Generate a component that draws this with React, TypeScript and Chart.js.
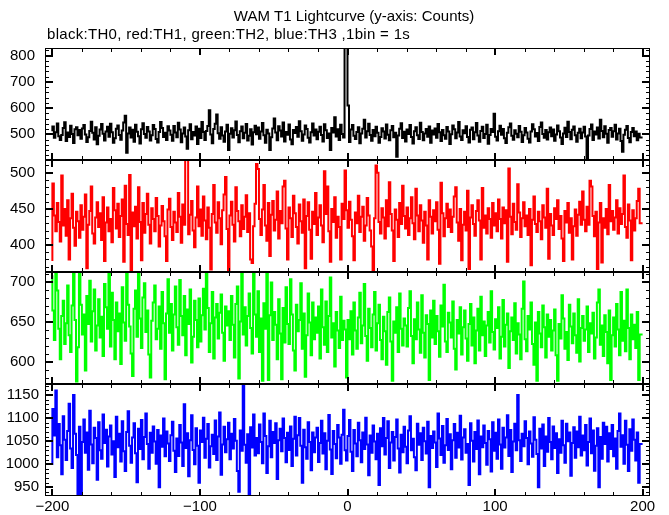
import React, { useEffect, useRef } from 'react';
import { Chart, registerables } from 'chart.js';

Chart.register(...registerables);

const titleText = 'WAM T1 Lightcurve (y-axis: Counts)';
const subtitleText = 'black:TH0, red:TH1, green:TH2, blue:TH3 ,1bin = 1s';

// time bins: first bin start and bin width (1bin = 1s)
const binStart = -200;
const binWidth = 1;

// TH0 (black) counts per 1 s bin, t = -200 .. 199
const th0 = [
  512, 530, 487, 508, 541, 493, 478, 497, 524, 546, 474, 507, 490, 533, 501, 467, 519, 527, 496, 516,
  483, 522, 535, 499, 471, 489, 513, 548, 506, 480, 527, 462, 494, 518, 539, 502, 476, 511, 529, 491,
  540, 508, 468, 485, 521, 534, 497, 479, 514, 545, 571, 430, 503, 526, 488, 517, 472, 536, 510, 493,
  465, 519, 542, 501, 487, 528, 511, 476, 496, 535, 520, 482, 469, 509, 547, 524, 490, 506, 478, 531,
  514, 498, 475, 532, 507, 489, 544, 518, 470, 503, 526, 492, 445, 515, 538, 481, 509, 495, 530, 463,
  521, 486, 547, 509, 478, 513, 532, 592, 499, 466, 520, 540, 575, 504, 483, 527, 495, 472, 511, 536,
  440, 502, 523, 488, 515, 549, 497, 470, 512, 530, 485, 506, 539, 476, 494, 519, 461, 508, 533, 500,
  526, 483, 511, 543, 496, 468, 517, 503, 440, 489, 522, 560, 507, 477, 531, 514, 492, 545, 473, 509,
  498, 537, 480, 462, 516, 505, 528, 491, 550, 512, 475, 499, 534, 520, 487, 469, 508, 541, 495, 518,
  481, 510, 529, 497, 473, 538, 515, 486, 503, 440, 524, 507, 565, 492, 519, 478, 536, 501, 488, 900,
  880, 610, 471, 518, 535, 494, 482, 509, 527, 466, 503, 521, 555, 488, 512, 540, 497, 475, 516, 493,
  529, 506, 468, 490, 523, 511, 484, 537, 498, 477, 515, 532, 489, 506, 414, 495, 521, 542, 486, 510,
  473, 518, 501, 535, 490, 465, 512, 527, 496, 482, 544, 509, 477, 503, 520, 491, 530, 468, 514, 499,
  522, 487, 539, 508, 474, 516, 496, 483, 528, 511, 463, 500, 534, 519, 485, 507, 547, 492, 478, 515,
  504, 531, 490, 469, 517, 526, 481, 508, 543, 495, 472, 513, 529, 486, 501, 536, 464, 497, 520, 509,
  578, 491, 476, 512, 533, 498, 520, 485, 467, 506, 527, 541, 494, 479, 515, 502, 489, 532, 510, 471,
  496, 524, 507, 483, 469, 511, 538, 519, 492, 505, 474, 528, 545, 501, 487, 516, 480, 508, 526, 493,
  518, 475, 499, 534, 512, 488, 463, 503, 525, 490, 548, 509, 481, 517, 530, 496, 472, 506, 521, 485,
  507, 529, 492, 410, 495, 520, 537, 478, 511, 499, 526, 484, 555, 513, 489, 531, 502, 468, 516, 524,
  491, 512, 536, 480, 503, 521, 474, 433, 498, 517, 532, 486, 470, 509, 524, 493, 511, 477, 502, 488,
];

// TH1 (red)
const th1 = [
  378, 485, 441, 419, 458, 432, 405, 496, 427, 450, 413, 462, 380, 437, 471, 424, 399, 446, 433, 410,
  455, 421, 439, 470, 368, 428, 447, 481, 416, 402, 438, 459, 425, 444, 407, 466, 378, 431, 452, 419,
  436, 404, 479, 448, 423, 457, 411, 440, 463, 377, 482, 429, 414, 497, 364, 445, 426, 453, 409, 480,
  432, 379, 458, 417, 443, 471, 428, 402, 451, 436, 419, 465, 440, 398, 427, 454, 433, 412, 378, 449,
  464, 425, 407, 446, 431, 418, 472, 439, 403, 456, 428, 522, 520, 415, 442, 461, 420, 397, 438, 481,
  426, 449, 413, 467, 434, 408, 452, 424, 366, 443, 483, 431, 417, 459, 437, 401, 448, 470, 494, 422,
  364, 441, 460, 428, 405, 480, 447, 433, 412, 455, 422, 439, 469, 418, 444, 380, 375, 426, 457, 512,
  505, 436, 414, 449, 483, 427, 406, 458, 385, 442, 461, 420, 435, 474, 409, 447, 430, 481, 489, 423,
  380, 452, 437, 411, 468, 444, 425, 402, 456, 433, 417, 463, 368, 440, 459, 421, 381, 446, 429, 472,
  414, 438, 455, 427, 404, 502, 443, 481, 419, 377, 450, 432, 466, 410, 439, 425, 380, 457, 436, 503,
  448, 424, 460, 435, 412, 379, 445, 430, 468, 418, 439, 453, 406, 427, 465, 441, 420, 398, 363, 437,
  510, 500, 432, 416, 451, 438, 409, 462, 426, 487, 443, 420, 378, 449, 435, 411, 458, 429, 482, 440,
  423, 452, 414, 437, 466, 430, 408, 478, 441, 419, 455, 434, 403, 446, 427, 380, 462, 439, 416, 448,
  433, 459, 421, 374, 486, 444, 412, 437, 457, 425, 449, 418, 439, 467, 480, 431, 406, 450, 379, 428,
  446, 420, 475, 367, 438, 455, 429, 413, 447, 462, 434, 380, 479, 424, 441, 416, 451, 436, 410, 458,
  427, 444, 419, 463, 436, 409, 452, 430, 448, 377, 506, 439, 415, 457, 432, 421, 484, 445, 411, 437,
  459, 426, 441, 414, 450, 372, 435, 467, 429, 418, 446, 433, 408, 455, 438, 424, 478, 381, 443, 427,
  414, 451, 436, 462, 422, 440, 409, 378, 447, 431, 458, 417, 437, 380, 426, 449, 413, 442, 460, 428,
  474, 435, 419, 453, 428, 489, 481, 440, 412, 446, 367, 431, 458, 376, 437, 424, 450, 415, 483, 433,
  447, 421, 438, 462, 416, 451, 429, 443, 496, 425, 410, 456, 434, 379, 448, 420, 437, 461, 478, 430,
];

// TH2 (green)
const th2 = [
  708, 664, 627, 712, 689, 641, 603, 657, 676, 622, 648, 695, 633, 612, 670, 715, 652, 575, 618, 713,
  671, 634, 659, 589, 682, 647, 701, 625, 663, 690, 614, 645, 678, 630, 656, 607, 697, 668, 641, 714,
  619, 686, 652, 603, 674, 638, 660, 597, 693, 649, 626, 715, 671, 644, 610, 582, 666, 689, 631, 714,
  654, 617, 680, 698, 637, 664, 609, 580, 651, 674, 695, 628, 641, 669, 616, 687, 648, 578, 660, 703,
  636, 672, 614, 659, 694, 643, 621, 702, 657, 633, 682, 608, 665, 647, 690, 599, 631, 676, 652, 618,
  679, 625, 658, 691, 640, 713, 667, 612, 648, 687, 604, 655, 672, 629, 661, 684, 636, 601, 669, 645,
  663, 627, 682, 646, 605, 672, 694, 579, 650, 711, 634, 668, 620, 657, 685, 642, 610, 714, 659, 631,
  688, 612, 654, 576, 673, 641, 712, 577, 658, 699, 627, 662, 646, 603, 678, 635, 578, 667, 624, 693,
  647, 622, 703, 659, 614, 589, 671, 638, 652, 698, 616, 660, 581, 633, 685, 649, 608, 674, 628, 655,
  636, 669, 604, 690, 643, 621, 675, 612, 657, 705, 630, 648, 594, 662, 639, 617, 681, 627, 651, 640,
  580, 652, 628, 663, 609, 674, 639, 616, 655, 686, 623, 645, 697, 632, 601, 666, 642, 618, 659, 687,
  614, 648, 671, 627, 603, 656, 638, 596, 662, 680, 625, 576, 650, 636, 668, 612, 685, 641, 620, 654,
  645, 619, 667, 688, 632, 598, 653, 628, 674, 640, 611, 683, 636, 605, 658, 647, 577, 664, 630, 676,
  622, 657, 638, 606, 670, 644, 696, 625, 612, 661, 649, 630, 675, 616, 590, 652, 635, 668, 609, 643,
  664, 629, 601, 647, 672, 620, 655, 598, 639, 666, 614, 681, 633, 650, 607, 645, 662, 624, 688, 637,
  615, 653, 642, 668, 604, 631, 677, 619, 646, 660, 592, 638, 655, 627, 673, 610, 648, 634, 603, 666,
  700, 628, 613, 657, 640, 674, 622, 596, 649, 576, 662, 635, 618, 670, 643, 605, 659, 631, 652, 614,
  639, 665, 608, 576, 647, 629, 683, 654, 616, 637, 602, 671, 644, 623, 660, 633, 611, 678, 600, 642,
  657, 626, 640, 669, 612, 648, 635, 661, 604, 630, 674, 690, 621, 645, 607, 658, 637, 598, 664, 577,
  633, 655, 619, 672, 640, 608, 687, 626, 651, 613, 690, 642, 603, 659, 628, 646, 617, 662, 577, 634,
];

// TH3 (blue)
const th3 = [
  998, 1120, 1062, 1160, 1015, 1087, 1041, 978, 1104, 1053, 1009, 1072, 1131, 1034, 992, 1150, 1066, 1020, 933, 1081,
  935, 1048, 1097, 1025, 1069, 988, 1116, 1043, 1002, 1079, 1057, 966, 1091, 1030, 1012, 1108, 1046, 1075, 995, 1060,
  1084, 1021, 1050, 972, 1103, 1037, 1066, 1006, 1093, 1028, 985, 1070, 1115, 1040, 1003, 1058, 1089, 1024, 961, 1077,
  1033, 1096, 1011, 1059, 1110, 1044, 990, 1068, 1025, 1082, 1049, 1001, 1074, 950, 1062, 1038, 1099, 1017, 1071, 1045,
  1007, 1063, 1092, 1029, 983, 1056, 1018, 1085, 1047, 996, 1130, 1035, 1067, 974, 1052, 1106, 1031, 1000, 1078, 1040,
  960, 1073, 1048, 1101, 1014, 1055, 1087, 993, 1039, 1064, 1022, 1095, 1009, 1060, 1112, 977, 1043, 1081, 1026, 1054,
  1090, 1011, 1066, 1034, 1098, 1051, 985, 940, 1073, 1029, 1180, 1042, 1003, 1065, 935, 1080, 1036, 1108, 1019, 1057,
  1024, 1086, 1048, 1002, 1110, 1061, 981, 1039, 1094, 1015, 1070, 1046, 1089, 968, 1052, 1077, 1028, 1099, 1057, 1004,
  1068, 1031, 1082, 996, 1055, 1103, 1019, 1063, 1100, 1040, 960, 1075, 1037, 1012, 1091, 1048, 987, 1069, 1026, 1058,
  1079, 1005, 1046, 1094, 1023, 1067, 989, 1051, 1107, 1032, 979, 1072, 1044, 1013, 1085, 1058, 1001, 1064, 1118, 1030,
  1008, 1061, 1096, 1027, 985, 1074, 1045, 1017, 1090, 1052, 1004, 1069, 1033, 1101, 1043, 976, 1062, 1025, 1084, 1049,
  1011, 1066, 955, 1078, 1039, 1100, 1021, 1057, 1093, 992, 1047, 1070, 1008, 1059, 1097, 1034, 982, 1064, 1026, 1081,
  1038, 1002, 1073, 1104, 1030, 1055, 1015, 987, 1088, 1042, 1067, 1009, 1079, 1050, 1023, 1092, 950, 1061, 1035, 1071,
  1047, 994, 1110, 1056, 1020, 1083, 1003, 1041, 1098, 1031, 1065, 989, 1052, 1087, 1014, 1068, 1036, 1105, 1010, 1058,
  1076, 1025, 1044, 955, 1089, 1051, 1006, 1070, 1033, 1095, 978, 1060, 1037, 1084, 1046, 999, 1072, 1054, 984, 1091,
  1029, 1068, 1012, 1097, 1043, 990, 1079, 1036, 1058, 1106, 1018, 1074, 983, 1049, 1088, 1030, 1150, 1052, 1007, 1066,
  1039, 1093, 1057, 1000, 1071, 1045, 1016, 1102, 1053, 1022, 950, 1077, 1034, 1086, 996, 1060, 1027, 1100, 1048, 1011,
  1082, 1035, 1067, 981, 1054, 1025, 1094, 1041, 1003, 1088, 1050, 1069, 975, 1046, 1080, 1014, 1071, 1037, 1103, 1019,
  1062, 1030, 1085, 997, 1048, 1099, 1024, 1073, 986, 1040, 1078, 950, 1059, 1012, 1090, 1044, 1081, 1006, 1067, 1033,
  1085, 1017, 1056, 990, 1072, 1110, 1038, 1063, 1001, 1094, 1042, 985, 1076, 1029, 1097, 1053, 1008, 1069, 960, 1044,
];

// axes
const xTickValues = [-200, -100, 0, 100, 200];
const xMinorStep = 20;
const xMin = -205;
const xMax = 205;

const th0Ticks = [500, 600, 700, 800];
const th1Ticks = [400, 450, 500];
const th2Ticks = [600, 650, 700];
const th3Ticks = [950, 1000, 1050, 1100, 1150];

const th0Range = [402, 829];
const th1Range = [362.7, 517.6];
const th2Range = [572, 712];
const th3Range = [931, 1174];

const FONT = '"Liberation Sans", Arial, Helvetica, sans-serif';

type Panel = {
  id: string;
  label: string;
  values: number[];
  color: string;
  ticks: number[];
  minor: number;
  range: number[];
  weight: number;
  labelPad: number;
};

export default function App() {
  const ref = useRef<HTMLCanvasElement>(null);

  useEffect(() => {
    const canvas = ref.current;
    if (!canvas) return;

    const panels: Panel[] = [
      { id: 'y0', label: 'TH0', values: th0, color: '#000000', ticks: th0Ticks, minor: 20, range: th0Range, weight: 4, labelPad: 10 },
      { id: 'y1', label: 'TH1', values: th1, color: '#ff0000', ticks: th1Ticks, minor: 10, range: th1Range, weight: 3, labelPad: 10 },
      { id: 'y2', label: 'TH2', values: th2, color: '#00ff00', ticks: th2Ticks, minor: 10, range: th2Range, weight: 2, labelPad: 10 },
      { id: 'y3', label: 'TH3', values: th3, color: '#0000ff', ticks: th3Ticks, minor: 10, range: th3Range, weight: 1, labelPad: 6 },
    ];

    const scales: any = {
      x: {
        type: 'linear',
        position: 'bottom',
        min: xMin,
        max: xMax,
        afterBuildTicks: (s: any) => {
          s.ticks = xTickValues.map((v) => ({ value: v }));
        },
        afterFit: (s: any) => {
          s.height = 19;
        },
        grid: { display: false, drawTicks: false },
        border: { display: false },
        ticks: {
          autoSkip: false,
          maxRotation: 0,
          padding: 2,
          color: '#000',
          font: { family: FONT, size: 15 },
          callback: (v: any) => (v < 0 ? '\u2212' + Math.abs(v) : String(v)),
        },
      },
    };

    panels.forEach((p) => {
      scales[p.id] = {
        type: 'linear',
        position: 'left',
        stack: 'wam',
        stackWeight: 1,
        weight: p.weight,
        min: p.range[0],
        max: p.range[1],
        afterBuildTicks: (s: any) => {
          s.ticks = p.ticks.map((v) => ({ value: v }));
        },
        afterFit: (s: any) => {
          s.width = 45;
        },
        grid: { display: false, drawTicks: false },
        border: { display: false },
        ticks: {
          autoSkip: false,
          padding: p.labelPad,
          color: '#000',
          font: { family: FONT, size: 15 },
          callback: (v: any) => String(v),
        },
      };
    });

    const datasets = panels.map((p) => {
      const pts = p.values.map((v, i) => ({ x: binStart + i * binWidth, y: v }));
      pts.push({ x: binStart + p.values.length * binWidth, y: p.values[p.values.length - 1] });
      return {
        label: p.label,
        data: pts,
        xAxisID: 'x',
        yAxisID: p.id,
        borderColor: p.color,
        backgroundColor: p.color,
        borderWidth: 2,
        borderJoinStyle: 'miter' as const,
        pointRadius: 0,
        stepped: 'after' as const,
        fill: false,
        tension: 0,
      };
    });

    const panelClip = {
      id: 'panelClip',
      beforeDatasetDraw(chart: any, args: any) {
        const ys = chart.scales[args.meta.yAxisID];
        const a = chart.chartArea;
        const ctx = chart.ctx;
        ctx.save();
        ctx.beginPath();
        ctx.rect(a.left, ys.top, a.right - a.left, ys.bottom - ys.top);
        ctx.clip();
      },
      afterDatasetDraw(chart: any) {
        chart.ctx.restore();
      },
    };

    const framePlugin = {
      id: 'wamFrame',
      afterDatasetsDraw(chart: any) {
        const ctx = chart.ctx;
        const xs = chart.scales.x;
        const a = chart.chartArea;
        ctx.save();
        ctx.strokeStyle = '#000';
        ctx.lineCap = 'butt';
        panels.forEach((p) => {
          const ys = chart.scales[p.id];
          const top = Math.round(ys.top);
          const bot = Math.round(ys.bottom);
          ctx.lineWidth = 1;
          ctx.strokeRect(a.left + 0.5, top + 0.5, a.right - a.left - 1, bot - top - 1);
          for (let v = xTickValues[0]; v <= xTickValues[xTickValues.length - 1]; v += xMinorStep) {
            const major = xTickValues.includes(v);
            const px = Math.round(xs.getPixelForValue(v));
            const len = major ? 7 : 4;
            ctx.lineWidth = major ? 2 : 1;
            const off = major ? 0 : 0.5;
            ctx.beginPath();
            ctx.moveTo(px + off, top);
            ctx.lineTo(px + off, top + len);
            ctx.moveTo(px + off, bot);
            ctx.lineTo(px + off, bot - len);
            ctx.stroke();
          }
          const start = Math.ceil(p.range[0] / p.minor) * p.minor;
          for (let v = start; v <= p.range[1]; v += p.minor) {
            const major = p.ticks.includes(v);
            const py = Math.round(ys.getPixelForValue(v));
            const len = major ? 8 : 4;
            ctx.lineWidth = major ? 2 : 1;
            const off = major ? 0 : 0.5;
            ctx.beginPath();
            ctx.moveTo(a.left, py + off);
            ctx.lineTo(a.left + len, py + off);
            ctx.moveTo(a.right, py + off);
            ctx.lineTo(a.right - len, py + off);
            ctx.stroke();
          }
        });
        ctx.restore();
      },
      afterDraw(chart: any) {
        const ctx = chart.ctx;
        ctx.save();
        ctx.fillStyle = '#000';
        ctx.font = '15px ' + FONT;
        ctx.textBaseline = 'middle';
        ctx.textAlign = 'center';
        ctx.fillText(titleText, 354, 17);
        ctx.textAlign = 'left';
        (ctx as any).letterSpacing = '0.3px';
        ctx.fillText(subtitleText, 47, 35);
        ctx.restore();
      },
    };

    const chart = new Chart(canvas, {
      type: 'line',
      data: { datasets: datasets as any },
      options: {
        animation: false,
        responsive: false,
        devicePixelRatio: 1,
        events: [],
        layout: { padding: { top: 48, right: 19, bottom: 0, left: 0 } },
        plugins: {
          legend: { display: false },
          title: { display: false },
          tooltip: { enabled: false },
        },
        scales,
      },
      plugins: [panelClip, framePlugin],
    });

    return () => {
      chart.destroy();
    };
  }, []);

  return (
    <div style={{ position: 'absolute', left: 0, top: 0, width: 669, height: 515, background: '#fff' }}>
      <canvas ref={ref} width={669} height={515} style={{ display: 'block', width: 669, height: 515 }} />
    </div>
  );
}
